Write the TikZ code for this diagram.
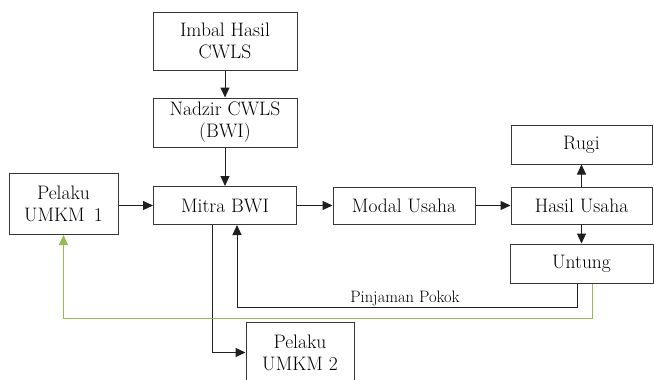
\documentclass[tikz,border=0pt]{standalone}
\usetikzlibrary{arrows.meta}
\definecolor{boxline}{RGB}{55,55,55}
\definecolor{flowgreen}{RGB}{146,190,80}
\tikzset{
  blk/.style={draw=boxline, line width=1pt, fill=white, inner sep=0pt, align=center,
    font=\fontsize{19.5}{22}\selectfont},
  conn/.style={draw=black!88, line width=1pt, -{Triangle[length=10pt,width=9pt]}},
  gconn/.style={draw=flowgreen, line width=1pt, -{Triangle[length=10pt,width=9pt]}},
}
\begin{document}
\begin{tikzpicture}[x=1pt,y=-1pt]
\useasboundingbox[fill=white] (0,0) rectangle (654,380);
\node[blk, minimum width=144pt, minimum height=58pt] (imbal) at (225,41) {Imbal Hasil\\CWLS};
\node[blk, minimum width=144pt, minimum height=49pt] (nadzir) at (225,122.5) {Nadzir CWLS\\(BWI)};
\node[blk, minimum width=109pt, minimum height=61pt] (pel1) at (63.5,204) {Pelaku\\UMKM\ \,1};
\node[blk, minimum width=143pt, minimum height=38pt] (mitra) at (225,205.5) {Mitra BWI};
\node[blk, minimum width=142pt, minimum height=37pt] (modal) at (404,205.5) {Modal Usaha};
\node[blk, minimum width=141pt, minimum height=37pt] (hasil) at (581.5,205.5) {Hasil Usaha};
\node[blk, minimum width=141pt, minimum height=39pt] (rugi) at (581.5,144.5) {Rugi};
\node[blk, minimum width=143pt, minimum height=39pt] (untung) at (581.5,263.5) {Untung};
\node[blk, minimum width=108pt, minimum height=61pt] (pel2) at (300,352.5) {Pelaku\\UMKM 2};
\node[font=\fontsize{16.5}{19}\selectfont, inner sep=0pt] (pinj) at (405,298) {Pinjaman Pokok};

\draw[conn] (imbal.south) -- (nadzir.north);
\draw[conn] (nadzir.south) -- (mitra.north);
\draw[conn] (pel1.east |- mitra.west) -- (mitra.west);
\draw[conn] (mitra.east) -- (modal.west);
\draw[conn] (modal.east) -- (hasil.west);
\draw[conn] (hasil.north) -- (rugi.south);
\draw[conn] (hasil.south) -- (untung.north);
\coordinate (m2) at (212,352.5);
\draw[conn] (mitra.south -| m2) -- (m2) -- (pel2.west);
\coordinate (pk) at (237,307);
\coordinate (uk) at (577,307);
\draw[conn] (untung.south -| uk) -- (uk) -- (pk) -- (mitra.south -| pk);
\coordinate (gk) at (592,318.5);
\coordinate (gl) at (63.5,318.5);
\draw[gconn] (untung.south -| gk) -- (gk) -- (gl) -- (pel1.south);
\end{tikzpicture}
\end{document}
